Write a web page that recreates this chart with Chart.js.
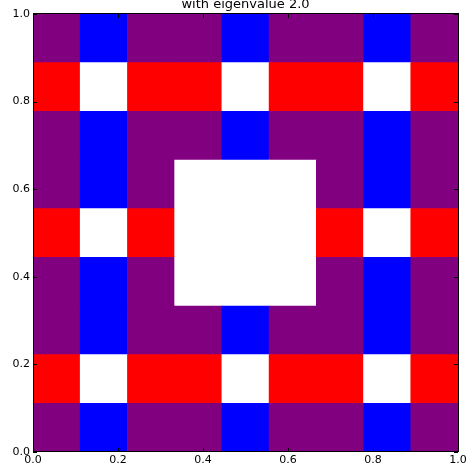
<!DOCTYPE html>
<html><head><meta charset="utf-8">
<script src="https://cdn.jsdelivr.net/npm/chart.js@4"></script>
<style>html,body{margin:0;padding:0;background:#fff}</style>
</head><body>
<canvas id="c" width="471" height="467"></canvas>
<script>
const titleText = 'with eigenvalue 2.0';
const columns = ['c0','c1','c2','c3','c4','c5','c6','c7','c8'];
const rowEdges = [0, 0.1111, 0.2222, 0.3333, 0.4444, 0.5556, 0.6667, 0.7778, 0.8889, 1.0];
// rows listed from bottom to top; P purple, B blue, R red, W white
const cellRows = [
  'PBPPBPPBP',
  'RWRRWRRWR',
  'PBPPBPPBP',
  'PBPWWWPBP',
  'RWRWWWRWR',
  'PBPWWWPBP',
  'PBPPBPPBP',
  'RWRRWRRWR',
  'PBPPBPPBP'
];
const xTickValues = [0.0, 0.2, 0.4, 0.6, 0.8, 1.0];
const yTickValues = [0.0, 0.2, 0.4, 0.6, 0.8, 1.0];
const palette = {P: '#800080', B: '#0000ff', R: '#ff0000', W: '#ffffff'};

const datasets = cellRows.map((row, r) => ({
  label: 'row' + r,
  data: columns.map(() => [rowEdges[r], rowEdges[r + 1]]),
  backgroundColor: row.split('').map(ch => palette[ch]),
  borderWidth: 0,
  categoryPercentage: 1.0,
  barPercentage: 1.0,
  grouped: false
}));

const tickFont = {family: '"DejaVu Sans"', size: 11};

const framePlugin = {
  id: 'frame',
  afterDraw(chart) {
    const ctx = chart.ctx;
    const a = chart.chartArea;
    const xs = chart.scales.xv, ys = chart.scales.y;
    ctx.save();
    ctx.strokeStyle = '#000';
    ctx.lineWidth = 1;
    ctx.beginPath();
    xTickValues.forEach(v => {
      const px = Math.round(xs.getPixelForValue(v)) + 0.5;
      ctx.moveTo(px, a.bottom); ctx.lineTo(px, a.bottom - 4);
      ctx.moveTo(px, a.top); ctx.lineTo(px, a.top + 4);
    });
    yTickValues.forEach(v => {
      const py = Math.round(ys.getPixelForValue(v)) + 0.5;
      ctx.moveTo(a.left, py); ctx.lineTo(a.left + 4, py);
      ctx.moveTo(a.right, py); ctx.lineTo(a.right - 4, py);
    });
    ctx.stroke();
    ctx.strokeRect(Math.round(a.left) + 0.5, Math.round(a.top) - 0.5, Math.round(a.right - a.left), Math.round(a.bottom - a.top));
    ctx.fillStyle = '#000';
    ctx.font = '13px "DejaVu Sans"';
    ctx.textAlign = 'center';
    ctx.textBaseline = 'alphabetic';
    ctx.fillText(titleText, (a.left + a.right) / 2, 8);
    ctx.restore();
  }
};

new Chart(document.getElementById('c'), {
  type: 'bar',
  data: {labels: columns, datasets},
  options: {
    responsive: false,
    animation: false,
    devicePixelRatio: 1,
    layout: {padding: {top: 14, right: 13, left: 0, bottom: 0}},
    plugins: {legend: {display: false}, tooltip: {enabled: false}, title: {display: false}},
    scales: {
      x: {type: 'category', display: false, offset: true, grid: {display: false}},
      xv: {
        type: 'linear', position: 'bottom', min: 0, max: 1, offset: false,
        grid: {display: false, drawTicks: false, offset: false},
        border: {display: false},
        afterBuildTicks: s => { s.ticks = xTickValues.map(v => ({value: v})); },
        afterFit: s => { s.height = 15; },
        ticks: {font: tickFont, color: '#000', padding: 2, maxRotation: 0, autoSkip: false,
                callback: v => Number(v).toFixed(1)}
      },
      y: {
        type: 'linear', position: 'left', min: 0, max: 1,
        grid: {display: false, drawTicks: false},
        border: {display: false},
        afterBuildTicks: s => { s.ticks = yTickValues.map(v => ({value: v})); },
        afterFit: s => { s.width = 33; },
        ticks: {font: tickFont, color: '#000', padding: 3, autoSkip: false,
                callback: v => Number(v).toFixed(1)}
      }
    }
  },
  plugins: [framePlugin]
});
</script>
</body></html>
